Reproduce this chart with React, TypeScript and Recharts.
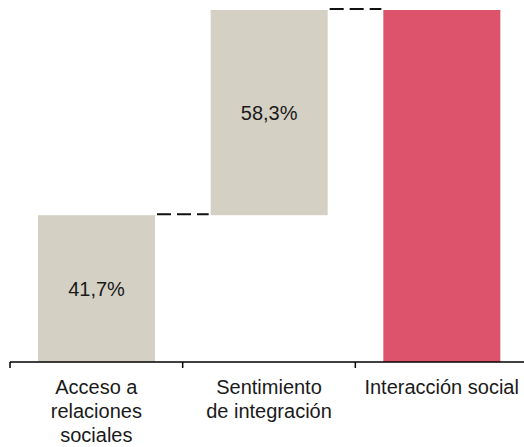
import React from 'react';
import { BarChart, Bar, XAxis, YAxis, LabelList } from 'recharts';

const categories = ['Acceso a relaciones sociales', 'Sentimiento de integración', 'Interacción social'];
const labelLines = [['Acceso a', 'relaciones', 'sociales'], ['Sentimiento', 'de integración'], ['Interacción social']];
const baseValues = [0, 41.7, 0];
const stepValues = [41.7, 58.3, 100];
const valueLabels = ['41,7%', '58,3%', ''];
const barColors = ['#D4D0C4', '#D4D0C4', '#DC536B'];

const CHART_W = 528;
const CHART_H = 447;
const MARGIN = { top: 10, right: 0, left: 10, bottom: 0 };
const BAR_SIZE = 117;
const BAND = (CHART_W - MARGIN.left - MARGIN.right) / categories.length;
const FONT = '"Liberation Sans", Arial, sans-serif';

const data = categories.map((name, i) => ({
  name,
  base: baseValues[i],
  value: stepValues[i],
  label: valueLabels[i],
}));

// rect plus dashed connector to the next bar
const StepShape = (props: any) => {
  const { x, y, width, height, index } = props;
  const gap = BAND - width;
  return (
    <g>
      <rect x={x} y={y} width={width} height={height} fill={barColors[index]} />
      {index < categories.length - 1 && (
        <line
          x1={x + width + 2}
          x2={x + width + gap - 2}
          y1={y - 1}
          y2={y - 1}
          stroke="#111"
          strokeWidth={2}
          strokeDasharray="14 6"
        />
      )}
    </g>
  );
};

const AxisTick = (props: any) => {
  const { x, y, payload } = props;
  const idx = categories.indexOf(payload.value);
  const lines = labelLines[idx] || [];
  const left = x - BAND / 2;
  return (
    <g>
      <line x1={left} x2={left} y1={y} y2={y + 6} stroke="#000" strokeWidth={1.5} />
      {idx === categories.length - 1 && (
        <line x1={x + BAND / 2} x2={x + BAND / 2} y1={y} y2={y + 6} stroke="#000" strokeWidth={1.5} />
      )}
      <text x={x} y={y} textAnchor="middle" fontSize={20} fill="#1a1a1a" fontFamily={FONT}>
        {lines.map((l, i) => (
          <tspan key={i} x={x} dy={i === 0 ? 32 : 24}>
            {l}
          </tspan>
        ))}
      </text>
    </g>
  );
};

export default function App() {
  return (
    <div style={{ position: 'absolute', left: 0, top: 0, width: 524, height: 447, overflow: 'hidden', background: '#fff' }}>
      <BarChart width={CHART_W} height={CHART_H} data={data} margin={MARGIN} barSize={BAR_SIZE}>
        <XAxis
          dataKey="name"
          height={85}
          interval={0}
          tickLine={false}
          tickSize={0}
          tickMargin={0}
          axisLine={{ stroke: '#000', strokeWidth: 1.5 }}
          tick={<AxisTick />}
        />
        <YAxis hide domain={[0, 100]} />
        <Bar dataKey="base" stackId="a" fill="transparent" isAnimationActive={false} />
        <Bar dataKey="value" stackId="a" shape={<StepShape />} isAnimationActive={false}>
          <LabelList dataKey="label" position="center" fontSize={20} fill="#1a1a1a" fontFamily={FONT} />
        </Bar>
      </BarChart>
    </div>
  );
}
